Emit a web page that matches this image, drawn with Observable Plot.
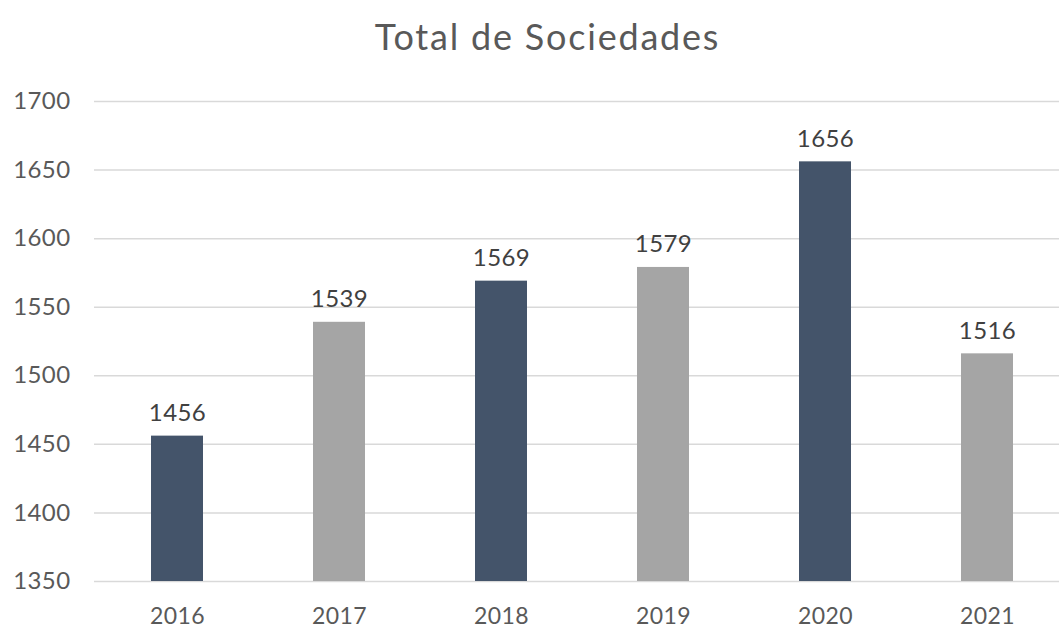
<!DOCTYPE html>
<html>
<head>
<meta charset="utf-8">
<script src="https://cdn.jsdelivr.net/npm/d3@7"></script>
<script src="https://cdn.jsdelivr.net/npm/@observablehq/plot@0.6"></script>
<style>
  body { margin: 0; background: #fff; font-family: Lato, "Open Sans", sans-serif; }
  #wrap { position: relative; width: 1059px; height: 628px; }
  #title { position: absolute; top: 0; left: 0; height: 75px; line-height: 72px; text-align: center; font-size: 36px; letter-spacing: 1.8px; color: #595959; padding-left: 36px; box-sizing: border-box; width: 1059px; z-index: 1; }
  #chart svg { display: block; }
  #chart svg text { letter-spacing: 0.4px; }
</style>
</head>
<body>
<div id="wrap">
<div id="title">Total de Sociedades</div>
<div id="chart"></div>
</div>
<script>
const years = ["2016", "2017", "2018", "2019", "2020", "2021"];
const totals = [1456, 1539, 1569, 1579, 1656, 1516];
const yTicks = [1350, 1400, 1450, 1500, 1550, 1600, 1650, 1700];

const data = years.map((year, i) => ({year, total: totals[i]}));
const dark = "#44546A", gray = "#A5A5A5";

const chart = Plot.plot({
  width: 1059,
  height: 628,
  marginTop: 101,
  marginBottom: 47,
  marginLeft: 94,
  marginRight: 0,
  style: {fontFamily: "Lato, 'Open Sans', sans-serif", background: "#fff"},
  x: {domain: years, range: [94, 1070], paddingInner: 0.68, paddingOuter: 0.34, label: null},
  y: {domain: [1350, 1700], label: null},
  color: {domain: years, range: years.map((_, i) => i % 2 === 0 ? dark : gray)},
  marks: [
    Plot.ruleY(yTicks, {stroke: "#D9D9D9", strokeWidth: 1.5}),
    Plot.barY(data, {x: "year", y1: 1350, y2: "total", fill: "year"}),
    Plot.text(data, {x: "year", y: "total", text: d => String(d.total), fontSize: 24, fill: "#404040", lineAnchor: "bottom", dy: -15}),
    Plot.axisY({ticks: yTicks, tickSize: 0, tickPadding: 24, fontSize: 24, color: "#595959", tickFormat: d => String(d), label: null}),
    Plot.axisX({tickSize: 0, tickPadding: 26, fontSize: 23, color: "#595959", label: null})
  ]
});
document.getElementById("chart").appendChild(chart);
</script>
</body>
</html>
